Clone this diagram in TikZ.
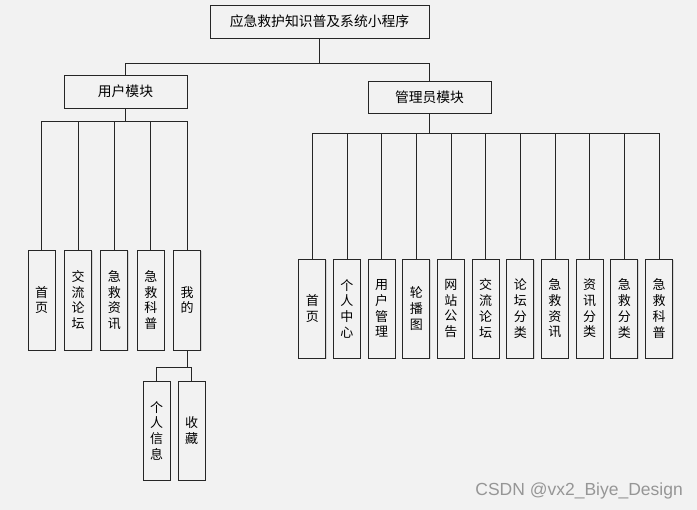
\documentclass[tikz,border=0pt]{standalone}
\usepackage{fontspec}
\setmainfont{Noto Sans CJK SC}
\newfontfamily\marksans{Liberation Sans}
\definecolor{paper}{RGB}{242,242,242}
\definecolor{edge}{RGB}{38,38,38}
\definecolor{mark}{RGB}{150,150,150}
\usetikzlibrary{positioning,shadows}

\begin{document}
\begin{tikzpicture}[x=1pt,y=-1pt,
    box/.style={draw=edge,fill=paper,line width=0.9pt,inner sep=0pt,
      font=\fontsize{13}{15.7}\selectfont,
      drop shadow={opacity=0.25,shadow xshift=1pt,shadow yshift=-1pt}},
    modbox/.style={box,minimum width=123pt,minimum height=33pt,
      font=\fontsize{13.8}{16}\selectfont},
    leaf/.style={box,minimum width=27pt,minimum height=99pt,align=center},
    link/.style={edge,line width=0.9pt}]
  \fill[paper] (0,0) rectangle (697,510);
  \useasboundingbox (0,0) rectangle (697,510);

  % top and the two modules
  \node[modbox,minimum width=219pt] (root) at (319.5,21.5) {应急救护知识普及系统小程序};
  \node[modbox] (user) at (125.5,91.5) {用户模块};
  \node[modbox,minimum height=32pt] (admin) at (429.5,97) {管理员模块};
  \coordinate (rootbus) at (0,63);
  \draw[link] (root.south) -- (root.south |- rootbus) -| (user.north);
  \draw[link] (root.south) -- (root.south |- rootbus) -| (admin.north);

  % user side
  \coordinate (userbus) at (0,121);
  \foreach \i/\t in {0/{首\\页}, 1/{交\\流\\论\\坛}, 2/{急\\救\\资\\讯},
                     3/{急\\救\\科\\普}, 4/{我\\的}} {
    \node[leaf,minimum height=100pt] (u\i) at ({41.6+36.4*\i},300) {\t};
    \draw[link] (user.south) -- (user.south |- userbus) -| (u\i.north);
  }
  \coordinate (minebus) at (0,367);
  \node[leaf] (m0) at (156.7,430.5) {个\\人\\信\\息};
  \node[leaf] (m1) at (191.5,430.5) {收\\藏};
  \foreach \i in {0,1}
    \draw[link] (u4.south) -- (u4.south |- minebus) -| (m\i.north);

  % admin side
  \coordinate (adminbus) at (0,133);
  \foreach \i/\t in {0/{首\\页}, 1/{个\\人\\中\\心}, 2/{用\\户\\管\\理},
                     3/{轮\\播\\图}, 4/{网\\站\\公\\告}, 5/{交\\流\\论\\坛},
                     6/{论\\坛\\分\\类}, 7/{急\\救\\资\\讯}, 8/{资\\讯\\分\\类},
                     9/{急\\救\\分\\类}, 10/{急\\救\\科\\普}} {
    \node[leaf] (a\i) at ({312.3+34.67*\i},308.5) {\t};
    \draw[link] (admin.south) -- (admin.south |- adminbus) -| (a\i.north);
  }

  \node[anchor=east,text=mark,font=\marksans\fontsize{17.5}{20}\selectfont,inner sep=0pt]
    (wm) at (683,491) {CSDN @vx2\_Biye\_Design};
\end{tikzpicture}
\end{document}
